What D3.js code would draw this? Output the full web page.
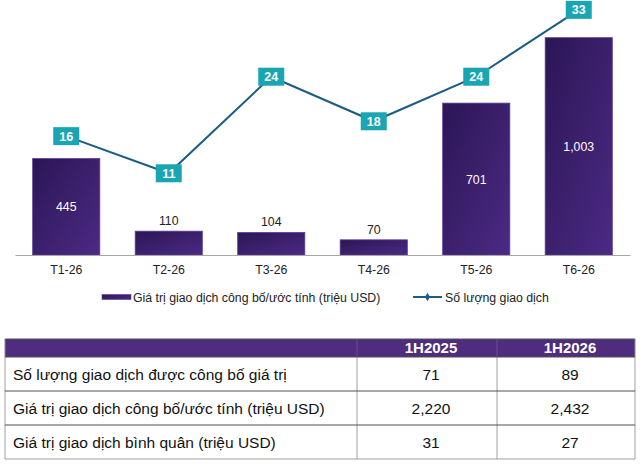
<!DOCTYPE html>
<html>
<head>
<meta charset="utf-8">
<script src="https://cdn.jsdelivr.net/npm/d3@7"></script>
<style>
  body { margin: 0; background: #fff; }
  svg { display: block; font-family: "Liberation Sans", Arial, sans-serif; }
</style>
</head>
<body>
<div id="chart"></div>
<script>
const months = ["T1-26", "T2-26", "T3-26", "T4-26", "T5-26", "T6-26"];
const dealValues = [445, 110, 104, 70, 701, 1003];
const dealCounts = [16, 11, 24, 18, 24, 33];
const legendLabels = ["Giá trị giao dịch công bố/ước tính (triệu USD)", "Số lượng giao dịch"];

const tableColumns = ["1H2025", "1H2026"];
const tableRows = [
  "Số lượng giao dịch được công bố giá trị",
  "Giá trị giao dịch công bố/ước tính (triệu USD)",
  "Giá trị giao dịch bình quân (triệu USD)"
];
const tableValues = [
  [71, 89],
  [2220, 2432],
  [31, 27]
];

const width = 640;
const height = 465;
const baseline = 255;
const fmt = d3.format(",");

const svg = d3.select("#chart").append("svg")
  .attr("width", width)
  .attr("height", height);

// gradient for bars
const defs = svg.append("defs");
const grad = defs.append("linearGradient")
  .attr("id", "barGrad")
  .attr("x1", "0%").attr("y1", "0%")
  .attr("x2", "100%").attr("y2", "100%");
grad.append("stop").attr("offset", "0%").attr("stop-color", "#2c1655");
grad.append("stop").attr("offset", "100%").attr("stop-color", "#4b2a84");

// scales
const x = d3.scaleBand().domain(months).range([15, 630])
  .paddingInner(0.345).paddingOuter(0.1725);
const yBar = d3.scaleLinear().domain([0, 1200]).range([baseline, -5]);
const yLine = d3.scaleLinear().domain([0, 35]).range([baseline, -5]);

// bars
svg.selectAll("rect.bar")
  .data(dealValues)
  .join("rect")
  .attr("class", "bar")
  .attr("x", (d, i) => x(months[i]))
  .attr("y", d => yBar(d))
  .attr("width", x.bandwidth())
  .attr("height", d => baseline - yBar(d))
  .attr("fill", "url(#barGrad)")
  .attr("stroke", "#5a3d96")
  .attr("stroke-width", 0.8);

// baseline axis
const xAxis = svg.append("g")
  .attr("transform", `translate(0, ${baseline})`)
  .call(d3.axisBottom(x).tickSize(0).tickPadding(10));
xAxis.select(".domain").attr("stroke", "#a6a6a6").attr("stroke-width", 1.2);
xAxis.selectAll("text")
  .attr("font-size", 12.3)
  .attr("fill", "#222")
  .style("font-family", "'Liberation Sans', Arial, sans-serif");

// bar value labels: inside if tall, above if short
svg.selectAll("text.bar-label")
  .data(dealValues)
  .join("text")
  .attr("class", "bar-label")
  .attr("x", (d, i) => x(months[i]) + x.bandwidth() / 2)
  .attr("y", d => d > 300 ? (yBar(d) + baseline) / 2 + 4.5 : yBar(d) - 6)
  .attr("text-anchor", "middle")
  .attr("font-size", 12.3)
  .attr("fill", d => d > 300 ? "#fff" : "#222")
  .text(d => fmt(d));

// line
const line = d3.line()
  .x((d, i) => x(months[i]) + x.bandwidth() / 2)
  .y(d => yLine(d));

svg.append("path")
  .datum(dealCounts)
  .attr("d", line)
  .attr("fill", "none")
  .attr("stroke", "#1c5d84")
  .attr("stroke-width", 2);

// line labels in teal boxes
const boxW = 26, boxH = 18;
const labels = svg.selectAll("g.count-label")
  .data(dealCounts)
  .join("g")
  .attr("class", "count-label")
  .attr("transform", (d, i) => `translate(${x(months[i]) + x.bandwidth() / 2}, ${yLine(d)})`);
labels.append("rect")
  .attr("x", -boxW / 2)
  .attr("y", -boxH / 2)
  .attr("width", boxW)
  .attr("height", boxH)
  .attr("fill", "#1aa5b2");
labels.append("text")
  .attr("text-anchor", "middle")
  .attr("y", 4.5)
  .attr("font-size", 12.5)
  .attr("font-weight", "bold")
  .attr("fill", "#fff")
  .text(d => d);

// legend
const legend = svg.append("g");
legend.append("rect")
  .attr("x", 102).attr("y", 294.5)
  .attr("width", 29).attr("height", 5)
  .attr("fill", "url(#barGrad)")
  .attr("stroke", "#5a3d96").attr("stroke-width", 0.6);
legend.append("text")
  .attr("x", 133).attr("y", 302)
  .attr("font-size", 12.3).attr("fill", "#222")
  .text(legendLabels[0]);
legend.append("line")
  .attr("x1", 413).attr("x2", 442)
  .attr("y1", 297).attr("y2", 297)
  .attr("stroke", "#1c5d84").attr("stroke-width", 2);
legend.append("path")
  .attr("d", d3.symbol(d3.symbolDiamond, 22)())
  .attr("transform", "translate(427.5, 297)")
  .attr("fill", "#1c5d84");
legend.append("text")
  .attr("x", 445).attr("y", 302)
  .attr("font-size", 12.3).attr("fill", "#222")
  .text(legendLabels[1]);

// table
const tLeft = 5, tRight = 635;
const colEdges = [tLeft, 357, 497, tRight];
const headerTop = 339, headerBottom = 357;
const rowH = 34;
const table = svg.append("g");

table.append("rect")
  .attr("x", tLeft).attr("y", headerTop)
  .attr("width", tRight - tLeft).attr("height", headerBottom - headerTop)
  .attr("fill", "#4e2c7e");

// header vertical separators
colEdges.slice(1, 3).forEach(cx => {
  table.append("line")
    .attr("x1", cx).attr("x2", cx)
    .attr("y1", headerTop).attr("y2", headerBottom)
    .attr("stroke", "#6a4c96").attr("stroke-width", 1);
});

tableColumns.forEach((c, j) => {
  table.append("text")
    .attr("x", (colEdges[j + 1] + colEdges[j + 2]) / 2 + 4)
    .attr("y", headerTop + 14)
    .attr("text-anchor", "middle")
    .attr("font-size", 15)
    .attr("font-weight", "bold")
    .attr("fill", "#fff")
    .text(c);
});

// vertical lines in body
const bodyBottom = headerBottom + rowH * tableRows.length;
colEdges.forEach(cx => {
  table.append("line")
    .attr("x1", cx).attr("x2", cx)
    .attr("y1", headerBottom).attr("y2", bodyBottom)
    .attr("stroke", "#a0a0a0").attr("stroke-width", 1);
});
// left/right edges of header
[tLeft, tRight].forEach(cx => {
  table.append("line")
    .attr("x1", cx).attr("x2", cx)
    .attr("y1", headerTop).attr("y2", headerBottom)
    .attr("stroke", "#8a8a8a").attr("stroke-width", 1);
});

// horizontal lines
[headerTop, headerBottom, headerBottom + rowH, headerBottom + rowH * 2, bodyBottom].forEach((hy, k) => {
  table.append("line")
    .attr("x1", tLeft).attr("x2", tRight)
    .attr("y1", hy).attr("y2", hy)
    .attr("stroke", k === 4 ? "#a0a0a0" : "#505050")
    .attr("stroke-width", 1);
});

tableRows.forEach((r, i) => {
  const cy = headerBottom + rowH * i + rowH / 2 + 5.5;
  table.append("text")
    .attr("x", 13).attr("y", cy)
    .attr("font-size", 15.5).attr("fill", "#111")
    .text(r);
  tableValues[i].forEach((v, j) => {
    table.append("text")
      .attr("x", (colEdges[j + 1] + colEdges[j + 2]) / 2 + 4)
      .attr("y", cy)
      .attr("text-anchor", "middle")
      .attr("font-size", 15.5).attr("fill", "#111")
      .text(fmt(v));
  });
});
</script>
</body>
</html>
